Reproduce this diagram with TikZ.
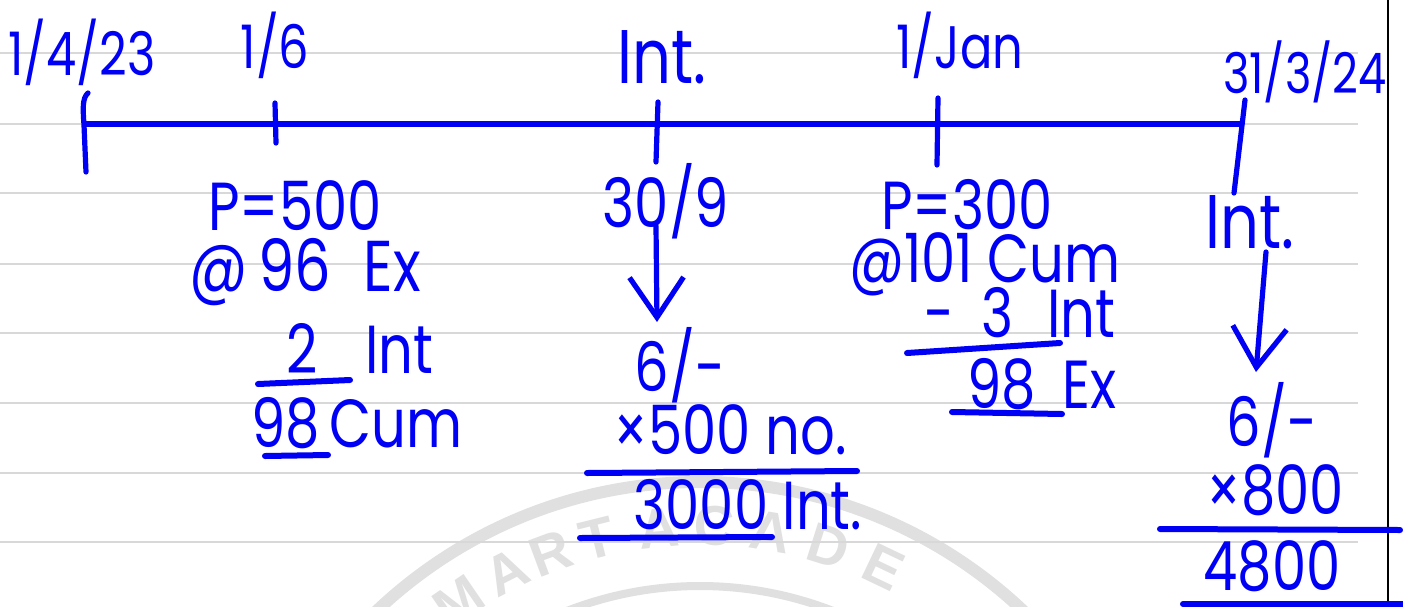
\documentclass[tikz,border=0pt]{standalone}
\usepackage{fontspec}
\newfontfamily\handfont[FakeStretch=0.8]{Poppins}
\newfontfamily\markfont{Liberation Sans}
\usetikzlibrary{arrows.meta,calc}
\definecolor{ink}{RGB}{0,0,245}
\definecolor{rulegray}{RGB}{216,216,216}
\definecolor{sealgray}{RGB}{224,224,224}
\begin{document}
\begin{tikzpicture}[x=0.5pt,y=-0.5pt,
  hand/.style={text=ink, inner sep=0pt, font=\handfont\fontsize{#1}{#1}\selectfont},
  hand/.default=34,
  pen/.style={draw=ink, line width=2.6pt, line cap=round, line join=round},
  sumline/.style={draw=ink, line width=3pt, line cap=round},
  down/.style={pen, -{Straight Barb[length=20pt,width=27pt]}},
  ruled/.style={draw=rulegray, line width=1pt},
  sealletter/.style={text=sealgray, inner sep=0pt, font=\markfont\bfseries\fontsize{28}{28}\selectfont}]

\useasboundingbox (0,0) rectangle (1403,606);
\fill[white] (0,0) rectangle (1403,606);

% faint academy seal at the foot of the page
\begin{scope}
  \clip (0,0) rectangle (1403,606);
  \coordinate (sc) at (700,952);
  \draw[sealgray, line width=6pt] (sc) circle[radius=470];
  \draw[sealgray, line width=4pt] (sc) circle[radius=366];
  \foreach \ch/\a in {M/124.5, A/117, R/110.5, T/104, A/95.5, C/88, A/80.5, D/72.5, E/64.5}
    \node[sealletter, rotate=\a-90] at ($(sc)+(-\a:426)$) {\ch};
\end{scope}

% ruled notebook lines and the margin
\foreach \y in {53,124,193,264,333,403,473,542}
  \draw[ruled] (0,\y) -- (1358,\y);
\draw[black, line width=1pt] (1388,0) -- (1388,606);

% time line with its ticks
\coordinate (start) at (86,124);
\coordinate (stop) at (1240,124);
\draw[pen, line width=2.8pt] (start) -- (stop);
\draw[pen] (88,93) .. controls (82,98) and (83,110) .. (84,125) -- (86,172);
\draw[pen] (275,103) -- (276,143);
\draw[pen] (658,102) -- (656,162);
\draw[pen] (938,98) -- (937,165);
\draw[pen] (1245,100) -- (1234,193);

% dates above the line
\node[hand=30] (d1) at (82,52) {1/4/23};
\node[hand=30] (d2) at (275,45) {1/6};
\node[hand=38] (d3) at (662,57) {Int.};
\node[hand=30] (d4) at (960,45) {1/Jan};
\node[hand=28] (d5) at (1305,72) {31/3/24};

% purchase on 1 June
\node[hand] (p500) at (295,206) {P=500};
\node[hand=36] (at96) at (305,272) {@\hspace{0.15em}96\hspace{0.45em}Ex};
\node[hand] (int2) at (360,348) {2\hspace{0.7em}Int};
\node[hand] (cum98) at (357,423) {98\hspace{0.15em}Cum};
\draw[sumline] (258,384) -- (350,380);
\draw[sumline] (265,456) -- (328,455);

% interest on 30 September
\node[hand] (d309) at (666,201) {30/9};
\node[hand] (six1) at (680,365) {6/-};
\node[hand] (x500) at (730,430) {×500 no.};
\node[hand] (i3000) at (748,505) {3000 Int.};
\coordinate (a1s) at (656,226);
\coordinate (a1e) at (657,322);
\draw[down] (a1s) -- (a1e);
\draw[sumline] (587,473) -- (857,471);
\draw[sumline] (580,538) -- (772,537);

% purchase on 1 January
\node[hand] (p300) at (967,205) {P=300};
\node[hand] (at101) at (985,264) {@101 Cum};
\node[hand] (m3) at (1020,313) {-\hspace{0.4em}3\hspace{0.5em}Int};
\node[hand] (ex98) at (1042,384) {98\hspace{0.4em}Ex};
\draw[sumline] (907,353) -- (1060,343);
\draw[sumline] (952,412) -- (1062,414);

% interest on 31 March
\node[hand=38] (int4) at (1250,222) {Int.};
\node[hand] (six2) at (1272,420) {6/-};
\node[hand] (x800) at (1275,490) {×800};
\node[hand] (t4800) at (1272,566) {4800};
\coordinate (a2s) at (1266,252);
\coordinate (a2e) at (1256,372);
\draw[down] (a2s) -- (a2e);
\draw[sumline] (1160,529) -- (1400,530);
\draw[sumline] (1183,604) -- (1403,604);
\end{tikzpicture}
\end{document}
